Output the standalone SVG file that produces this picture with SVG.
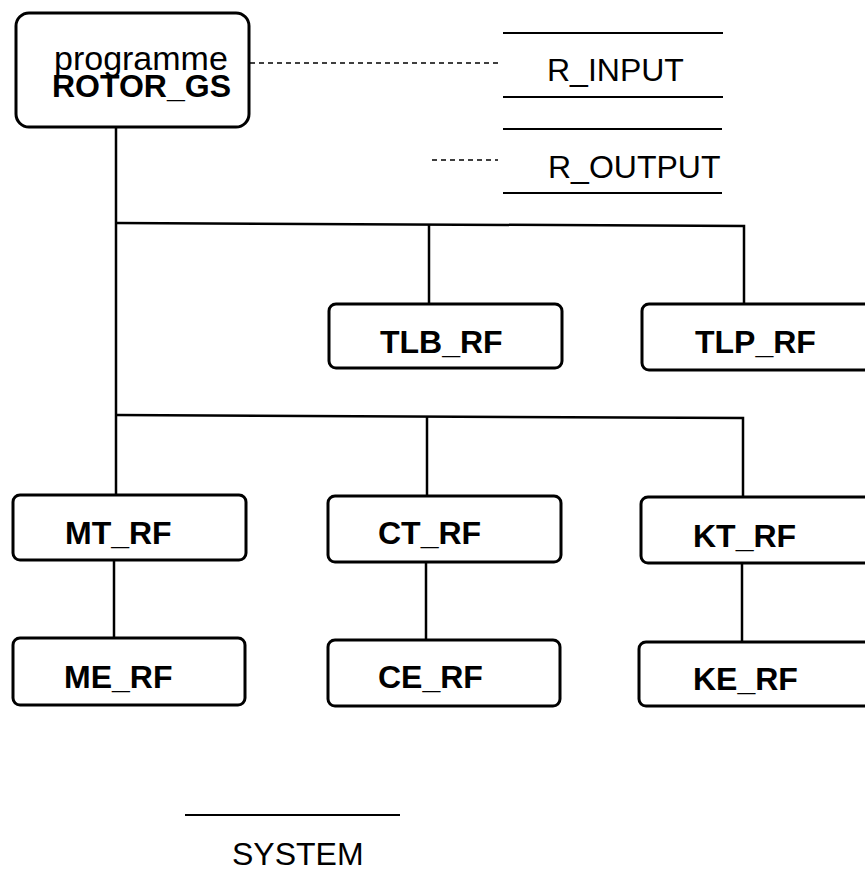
<svg xmlns="http://www.w3.org/2000/svg" width="865" height="878" viewBox="0 0 865 878">
<style>
.box{fill:#fff;stroke:#000;stroke-width:3}
.ln{fill:none;stroke:#000;stroke-width:2.5}
.dash{fill:none;stroke:#000;stroke-width:1.5;stroke-dasharray:5 4}
.rule{fill:none;stroke:#000;stroke-width:2}
.lb{font-family:"Liberation Sans",Arial,sans-serif;font-weight:bold;font-size:32px;fill:#000}
.lr{font-family:"Liberation Sans",Arial,sans-serif;font-size:32px;fill:#000}
</style>
<rect width="865" height="878" fill="#fff"/>
<g id="connectors">
<line class="ln" x1="116" y1="127" x2="116" y2="495"/>
<polyline class="ln" points="116,223 744,226 744,304"/>
<line class="ln" x1="429" y1="224" x2="429" y2="304"/>
<polyline class="ln" points="116,415 743,418 743,497"/>
<line class="ln" x1="427" y1="416" x2="427" y2="496"/>
<line class="ln" x1="114" y1="560" x2="114" y2="638"/>
<line class="ln" x1="426" y1="562" x2="426" y2="640"/>
<line class="ln" x1="742" y1="563" x2="742" y2="642"/>
<line class="dash" x1="250" y1="63" x2="498" y2="63"/>
<line class="dash" x1="432" y1="160" x2="498" y2="160"/>
</g>
<g id="rotor_gs">
<rect class="box" x="16" y="13" width="233" height="114" rx="13"/>
<text class="lr" x="54" y="70" style="font-size:34px">programme</text>
<text class="lb" x="52" y="97">ROTOR_GS</text>
</g>
<g id="r_input">
<line class="rule" x1="503" y1="33" x2="723" y2="33"/>
<line class="rule" x1="503" y1="97" x2="723" y2="97"/>
<text class="lr" x="547" y="81">R_INPUT</text>
</g>
<g id="r_output">
<line class="rule" x1="503" y1="129" x2="722" y2="129"/>
<line class="rule" x1="503" y1="193" x2="722" y2="193"/>
<text class="lr" x="548" y="178">R_OUTPUT</text>
</g>
<g id="tlb_rf">
<rect class="box" x="329" y="304" width="233" height="64" rx="7"/>
<text class="lb" x="380" y="353">TLB_RF</text>
</g>
<g id="tlp_rf">
<rect class="box" x="642" y="304" width="240" height="66" rx="7"/>
<text class="lb" x="695" y="353">TLP_RF</text>
</g>
<g id="mt_rf">
<rect class="box" x="13" y="495" width="233" height="65" rx="7"/>
<text class="lb" x="65" y="544">MT_RF</text>
</g>
<g id="ct_rf">
<rect class="box" x="328" y="496" width="233" height="66" rx="7"/>
<text class="lb" x="378" y="544">CT_RF</text>
</g>
<g id="kt_rf">
<rect class="box" x="641" y="497" width="240" height="66" rx="7"/>
<text class="lb" x="693" y="547">KT_RF</text>
</g>
<g id="me_rf">
<rect class="box" x="13" y="638" width="232" height="67" rx="7"/>
<text class="lb" x="64" y="688">ME_RF</text>
</g>
<g id="ce_rf">
<rect class="box" x="328" y="640" width="232" height="66" rx="7"/>
<text class="lb" x="378" y="688">CE_RF</text>
</g>
<g id="ke_rf">
<rect class="box" x="639" y="642" width="242" height="64" rx="7"/>
<text class="lb" x="693" y="690">KE_RF</text>
</g>
<g id="system">
<line class="rule" x1="185" y1="815" x2="400" y2="815"/>
<text class="lr" x="232" y="865">SYSTEM</text>
</g>
</svg>
